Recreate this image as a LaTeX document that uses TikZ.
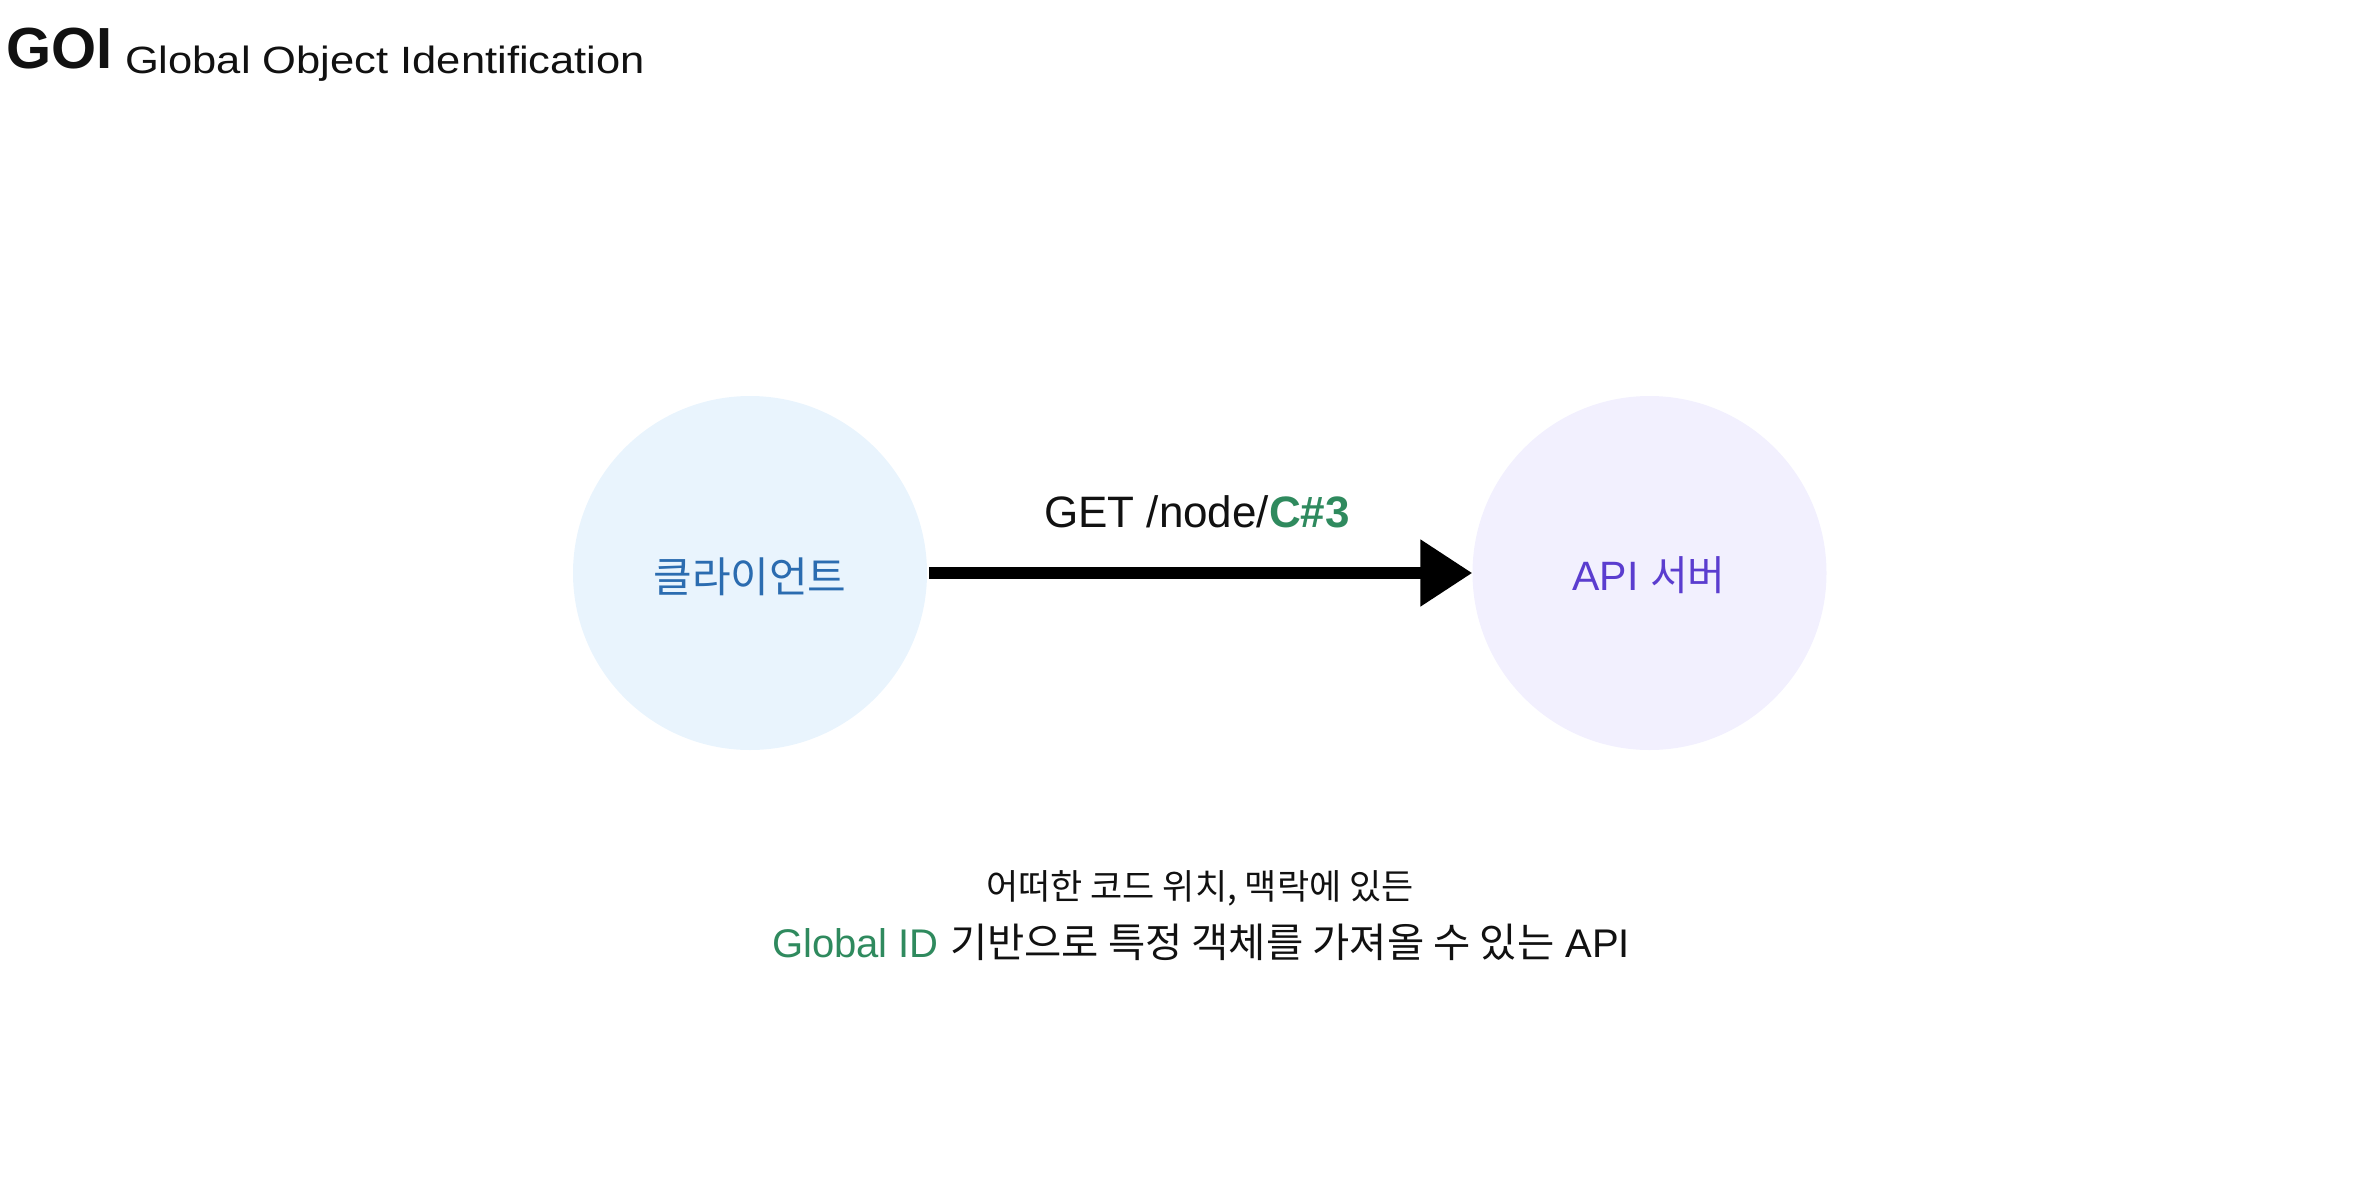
\documentclass[tikz,border=0pt]{standalone}
\usepackage{fontspec}
\setmainfont{Liberation Sans}
\newfontfamily\kr{Noto Sans CJK KR}
\usetikzlibrary{arrows.meta}
\definecolor{cblue}{HTML}{2B6CB0}
\definecolor{cpurple}{HTML}{5B3DCF}
\definecolor{cgreen}{HTML}{2F8A5E}
\definecolor{bgblue}{HTML}{E9F4FD}
\definecolor{bgpurple}{HTML}{F2F0FE}
\definecolor{ink}{HTML}{111111}
\tikzset{
  bubble/.style={circle, minimum size=354pt, inner sep=0pt, draw=none},
  txt/.style={inner sep=0pt, outer sep=0pt, text=ink},
  conn/.style={line width=12pt, draw=black, -{Triangle[length=52pt,width=64pt]}}
}
\begin{document}
\begin{tikzpicture}[x=1pt,y=-1pt]
\useasboundingbox (0,0) rectangle (2364,1186);
% title
\node[txt, anchor=base west, font=\fontsize{58}{66}\selectfont\bfseries] (goi) at (6,68) {GOI};
\node[txt, anchor=base west, font=\fontsize{38}{46}\selectfont] (sub) at (125,73) {\scalebox{1.145}[1]{Global Object Identification}};
% circles
\node[bubble, fill=bgblue] (L) at (750,573) {};
\node[bubble, fill=bgpurple] (R) at (1649.5,573) {};
\node[txt, anchor=base, text=cblue, font=\kr\fontsize{42}{50}\selectfont] (Lt) at (750,592) {클라이언트};
\node[txt, anchor=base, text=cpurple] (Rt) at (1649,590) {\fontsize{41}{48}\selectfont API {\kr\fontsize{41}{48}\selectfont 서버}};
% connector
\draw[conn] ([xshift=2pt]L.east) -- (R.west);
\node[txt, anchor=base, font=\fontsize{44}{52}\selectfont] (get) at (1197,527) {GET /node/{\color{cgreen}\bfseries C\#3}};
% bottom text
\node[txt, anchor=base, font=\kr\fontsize{35}{42}\selectfont] (d1) at (1200,899) {어떠한 코드 위치, 맥락에 있든};
\node[txt, anchor=base, font=\fontsize{40}{48}\selectfont] (d2) at (1201,957) {{\color{cgreen}Global ID} {\kr\fontsize{40.5}{48}\selectfont 기반으로 특정 객체를 가져올 수 있는} API};
\end{tikzpicture}
\end{document}
